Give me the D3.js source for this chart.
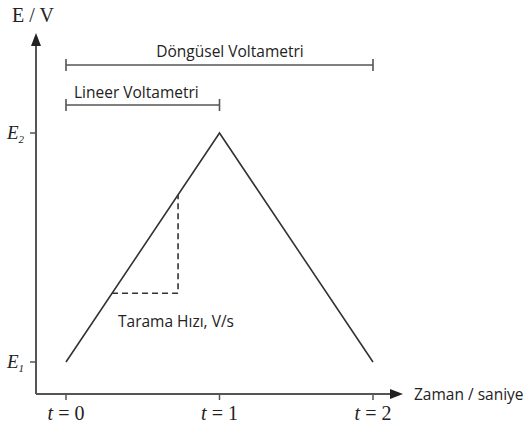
<!DOCTYPE html>
<html>
<head>
<meta charset="utf-8">
<script src="https://cdn.jsdelivr.net/npm/d3@7"></script>
<style>
  body { margin: 0; background: #fff; }
</style>
</head>
<body>
<div id="chart"></div>
<script>
// potansiyel taraması: zaman (s) ve E (E1 = 0, E2 = 1)
const scanTime = [0, 1, 2];
const scanE = [0, 1, 0];
const timeTicks = [0, 1, 2];
const timeLabels = ["t = 0", "t = 1", "t = 2"];
const eTicks = [0, 1];
const eLabels = ["E1", "E2"];
// tarama hızı üçgeni (kesikli)
const slopeTime = [0.3, 0.73];
// aralık çubukları
const ranges = [
  { name: "Döngüsel Voltametri", from: 0, to: 2 },
  { name: "Lineer Voltametri", from: 0, to: 1 }
];

const width = 531, height = 430;
const svg = d3.select("#chart").append("svg")
  .attr("width", width)
  .attr("height", height);

const x = d3.scaleLinear().domain([0, 2]).range([66, 373]);
const y = d3.scaleLinear().domain([0, 1]).range([362, 133]);

const axisX0 = 36, axisY0 = 394;
const axisColor = "#555";
const sans = "Open Sans, DejaVu Sans, sans-serif";
const serif = "Liberation Serif, DejaVu Serif, serif";

// eksenler
svg.append("line")
  .attr("x1", axisX0).attr("y1", axisY0)
  .attr("x2", axisX0).attr("y2", 44)
  .attr("stroke", axisColor).attr("stroke-width", 2);
svg.append("path")
  .attr("d", `M${axisX0 - 5},${46} L${axisX0},${33} L${axisX0 + 5},${46} Z`)
  .attr("fill", "#222");

svg.append("line")
  .attr("x1", axisX0).attr("y1", axisY0)
  .attr("x2", 392).attr("y2", axisY0)
  .attr("stroke", axisColor).attr("stroke-width", 2);
svg.append("path")
  .attr("d", `M390,${axisY0 - 5} L403,${axisY0} L390,${axisY0 + 5} Z`)
  .attr("fill", "#222");

// x tikleri
svg.selectAll(".xtick")
  .data(timeTicks)
  .join("line")
  .attr("x1", d => x(d)).attr("x2", d => x(d))
  .attr("y1", axisY0).attr("y2", axisY0 + 6)
  .attr("stroke", axisColor).attr("stroke-width", 1.5);

svg.selectAll(".xlabel")
  .data(timeTicks)
  .join("text")
  .attr("x", d => x(d))
  .attr("y", 420)
  .attr("text-anchor", "middle")
  .attr("font-family", serif)
  .attr("font-size", "20px")
  .attr("fill", "#222")
  .each(function(d, i) {
    const parts = timeLabels[i].split(" = ");
    const t = d3.select(this);
    t.append("tspan").attr("font-style", "italic").text(parts[0]);
    t.append("tspan").text(" = " + parts[1]);
  });

// y tikleri
svg.selectAll(".ytick")
  .data(eTicks)
  .join("line")
  .attr("x1", axisX0 - 6).attr("x2", axisX0)
  .attr("y1", d => y(d)).attr("y2", d => y(d))
  .attr("stroke", axisColor).attr("stroke-width", 1.5);

svg.selectAll(".ylabel")
  .data(eTicks)
  .join("text")
  .attr("x", 7)
  .attr("y", d => y(d) + 6)
  .attr("font-family", serif)
  .attr("font-style", "italic")
  .attr("font-size", "19px")
  .attr("fill", "#222")
  .each(function(d, i) {
    const t = d3.select(this);
    t.append("tspan").text(eLabels[i][0]);
    t.append("tspan").attr("font-size", "11px").attr("dy", 4).text(eLabels[i].slice(1));
  });

// eksen başlıkları
svg.append("text")
  .attr("x", 12).attr("y", 22)
  .attr("font-family", serif)
  .attr("font-size", "20px")
  .attr("fill", "#222")
  .text("E / V");

svg.append("text")
  .attr("x", 414).attr("y", 400)
  .attr("font-family", sans)
  .attr("font-size", "15.5px")
  .attr("fill", "#222")
  .text("Zaman / saniye");

// tarama çizgisi
const line = d3.line()
  .x((d, i) => x(scanTime[i]))
  .y(d => y(d));

svg.append("path")
  .datum(scanE)
  .attr("d", line)
  .attr("fill", "none")
  .attr("stroke", "#333")
  .attr("stroke-width", 1.6);

// tarama hızı (kesikli)
const [t1, t2] = slopeTime;
svg.append("path")
  .attr("d", `M${x(t1)},${y(t1)} L${x(t2)},${y(t1)} L${x(t2)},${y(t2)}`)
  .attr("fill", "none")
  .attr("stroke", "#333")
  .attr("stroke-width", 1.6)
  .attr("stroke-dasharray", "6,4");

svg.append("text")
  .attr("x", 118).attr("y", 327)
  .attr("font-family", sans)
  .attr("font-size", "15.5px")
  .attr("fill", "#222")
  .text("Tarama Hızı, V/s");

// aralık çubukları
const barY = [65, 105];
ranges.forEach((r, i) => {
  const g = svg.append("g").attr("stroke", axisColor).attr("stroke-width", 1.6);
  g.append("line")
    .attr("x1", x(r.from)).attr("x2", x(r.to))
    .attr("y1", barY[i]).attr("y2", barY[i]);
  [r.from, r.to].forEach(v => {
    g.append("line")
      .attr("x1", x(v)).attr("x2", x(v))
      .attr("y1", barY[i] - 6).attr("y2", barY[i] + 6);
  });
});

svg.append("text")
  .attr("x", 230).attr("y", 57)
  .attr("text-anchor", "middle")
  .attr("font-family", sans)
  .attr("font-size", "15.5px")
  .attr("fill", "#222")
  .text(ranges[0].name);

svg.append("text")
  .attr("x", 74).attr("y", 98)
  .attr("font-family", sans)
  .attr("font-size", "15.5px")
  .attr("fill", "#222")
  .text(ranges[1].name);
</script>
</body>
</html>
